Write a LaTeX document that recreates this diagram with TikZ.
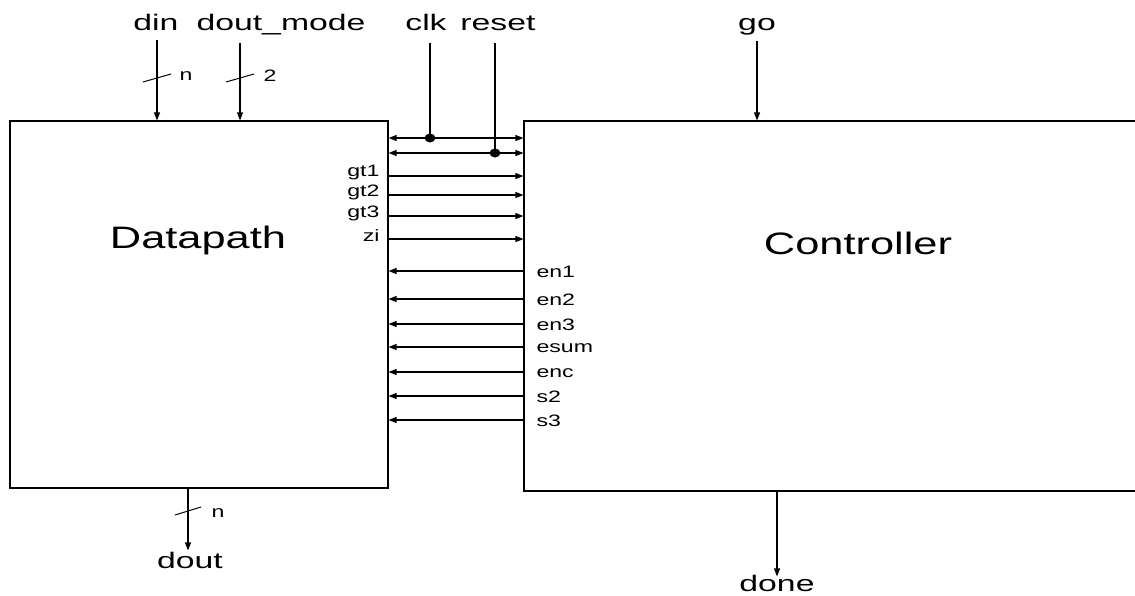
\documentclass[tikz,border=0pt]{standalone}
\usepackage{fontspec}
\setmainfont{Liberation Sans}
\usetikzlibrary{arrows.meta, positioning}
\newcommand{\wtext}[1]{\scalebox{1.4}[1]{#1}}
\newcommand{\wsig}[1]{\scalebox{1.5}[1]{#1}}

\begin{document}
\begin{tikzpicture}[>={Triangle[length=8pt, width=6pt]}, x=1pt, y=-1pt, line width=1.1pt,
  sig/.style={font=\fontsize{22.5}{26}\selectfont, inner sep=1pt, text height=16pt, text depth=4pt},
  lbl/.style={font=\fontsize{16.5}{19}\selectfont, inner sep=2pt},
  title/.style={font=\fontsize{31}{36}\selectfont},
  bus/.style={line width=1pt}]
  \useasboundingbox (0,0) rectangle (1135,595);
  % blokke
  \node[draw, minimum width=378pt, minimum height=367pt, inner sep=0pt] (dp) at (199,304.5) {};
  \node[draw, minimum width=676pt, minimum height=370pt, inner sep=0pt] (ctl) at (862,306) {};
  \node[title] (dplabel) at (198,240) {\wtext{Datapath}};
  \node[title] (ctllabel) at (858,243) {\wtext{Controller}};
  % indgange
  \node[sig] (din) at (156,24) {\wsig{din}};
  \node[sig] (doutmode) at (281,24) {\wsig{dout\_mode}};
  \node[sig] (clk) at (426,24) {\wsig{clk}};
  \node[sig] (reset) at (498,24) {\wsig{reset}};
  \node[sig] (go) at (757,24) {\wsig{go}};
  \draw[->, shorten <=5pt] (157,35) coordinate (dintop) -- (dintop |- dp.north);
  \draw[->, shorten <=8pt] (240,35) coordinate (dmtop) -- (dmtop |- dp.north);
  \draw[->, shorten <=5pt] (go.south) -- (go.south |- ctl.north);
  % busbredder
  \draw[bus] (157,78) +(-14,4) -- +(14,-4);
  \node[lbl, anchor=west] (dinw) at (177,76) {\wtext{n}};
  \draw[bus] (240,78) +(-14,4) -- +(14,-4);
  \node[lbl, anchor=west] (dmw) at (261,76) {\wtext{2}};
  % clk og reset
  \coordinate (clkdot) at (430,138);
  \coordinate (rstdot) at (495,153);
  \draw[shorten <=7pt] (clkdot |- clk.south) -- (clkdot);
  \draw[shorten <=7pt] (rstdot |- reset.south) -- (rstdot);
  \draw[<->] (dp.east |- clkdot) -- (ctl.west |- clkdot);
  \draw[<->] (dp.east |- rstdot) -- (ctl.west |- rstdot);
  \fill (clkdot) ellipse [x radius=5.5, y radius=4.5];
  \fill (rstdot) ellipse [x radius=5.5, y radius=4.5];
  % statussignaler
  \foreach \y/\t in {176/gt1, 195/gt2, 216/gt3, 239/zi} {
    \node[lbl, anchor=east] (\t) at (382,\y-3) {\wtext{\t}};
    \draw[->] (dp.east |- 0,\y) -- (ctl.west |- 0,\y);
  }
  % styresignaler
  \foreach \y/\t in {271/en1, 299/en2, 324/en3, 347/esum, 372/enc, 396/s2, 420/s3} {
    \node[lbl, anchor=west] (\t) at (534,\y+1) {\wtext{\t}};
    \draw[->] (ctl.west |- 0,\y) -- (dp.east |- 0,\y);
  }
  % udgange
  \node[sig] (dout) at (190,562) {\wsig{dout}};
  \node[sig] (done) at (777,585) {\wsig{done}};
  \draw[->] (188,488) coordinate (doutbot) -- (doutbot |- dout.north);
  \draw[bus] (188,511) +(-13,4) -- +(13,-4);
  \node[lbl, anchor=west] (doutw) at (209,513) {\wtext{n}};
  \draw[->] (done |- ctl.south) -- ([yshift=-3pt]done.north);
\end{tikzpicture}
\end{document}
